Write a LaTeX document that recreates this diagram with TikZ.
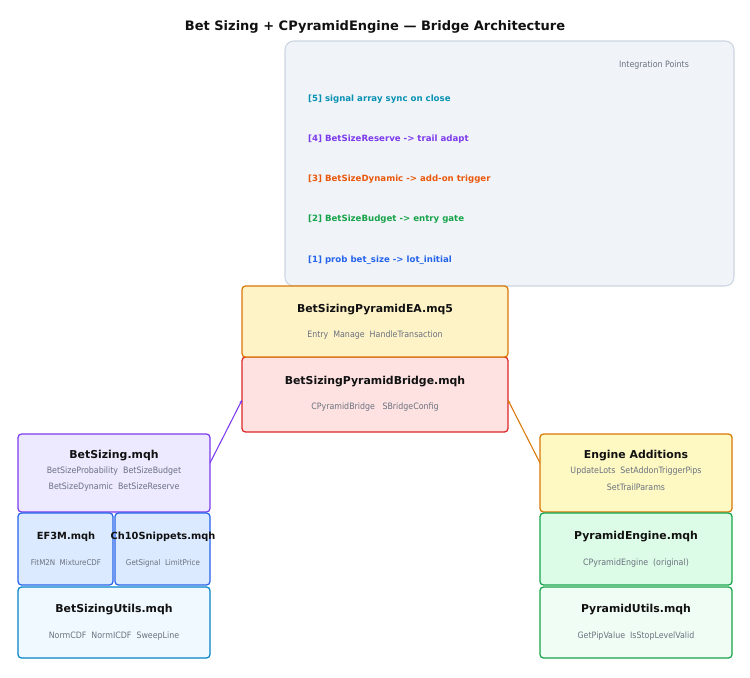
\documentclass[tikz,border=0pt]{standalone}
\usepackage{fontspec}
\setmainfont{DejaVu Sans}
\newfontfamily\condfont{DejaVu Sans Condensed}
\usetikzlibrary{arrows.meta}
\definecolor{panelbg}{HTML}{F0F4F8}
\definecolor{panelline}{HTML}{CBD5E1}
\definecolor{subgray}{HTML}{6B7280}
\definecolor{titleink}{HTML}{111111}
\definecolor{ipteal}{HTML}{0891B2}
\definecolor{ippurple}{HTML}{7C3AED}
\definecolor{iporange}{HTML}{EA580C}
\definecolor{ipgreen}{HTML}{16A34A}
\definecolor{ipblue}{HTML}{2563EB}
\definecolor{edgeamber}{HTML}{D97706}
\tikzset{
  box/.style={draw, rounded corners=2pt, line width=0.7pt},
  ttl/.style={font=\fontsize{6.2}{7}\selectfont\bfseries, text=titleink},
  sub/.style={font=\condfont\fontsize{5.0}{6}\selectfont, text=subgray},
  item/.style={font=\fontsize{4.9}{5.5}\selectfont\bfseries, anchor=west},
}
\begin{document}
\begin{tikzpicture}[x=0.02cm,y=-0.02cm]
\useasboundingbox (0,0) rectangle (750,677);
\node[font=\fontsize{7.4}{9}\selectfont\bfseries, text=titleink] (title) at (375,27) {Bet Sizing + CPyramidEngine — Bridge Architecture};
% integration panel
\draw[panelline, fill=panelbg, rounded corners=5pt, line width=0.6pt] (285,41) rectangle (734,286);
\node[sub] (ip) at (654,65) {Integration Points};
\node[item, text=ipteal] (i5) at (302,99) {[5] signal array sync on close};
\node[item, text=ippurple] (i4) at (302,139) {[4] BetSizeReserve -> trail adapt};
\node[item, text=iporange] (i3) at (302,179) {[3] BetSizeDynamic -> add-on trigger};
\node[item, text=ipgreen] (i2) at (302,219) {[2] BetSizeBudget -> entry gate};
\node[item, text=ipblue] (i1) at (302,260) {[1] prob bet\_size -> lot\_initial};
% centre
\draw[box, draw={rgb,255:red,220;green,38;blue,38}, fill={rgb,255:red,254;green,226;blue,226}] (242,357) rectangle (508,432);
\draw[box, draw=edgeamber, fill={rgb,255:red,254;green,243;blue,199}] (242,286) rectangle (508,357);
\node[ttl] (ea) at (375,310) {BetSizingPyramidEA.mq5};
\node[sub] (eas) at (375,335) {Entry\ \ Manage\ \ HandleTransaction};
\node[ttl] (br) at (375,382) {BetSizingPyramidBridge.mqh};
\node[sub] (brs) at (375,407) {CPyramidBridge\ \ \ SBridgeConfig};
% left stack
\draw[box, draw=ippurple, fill={rgb,255:red,237;green,233;blue,254}] (18,434) rectangle (210,512);
\draw[box, draw=ipblue, fill={rgb,255:red,219;green,234;blue,254}] (18,513) rectangle (113,585);
\draw[box, draw=ipblue, fill={rgb,255:red,219;green,234;blue,254}] (115,513) rectangle (210,585);
\draw[box, draw={rgb,255:red,2;green,132;blue,199}, fill={rgb,255:red,240;green,249;blue,255}] (18,587) rectangle (210,658);
\node[ttl] (bs) at (114,456) {BetSizing.mqh};
\node[sub] (bs1) at (114,471) {BetSizeProbability\ \ BetSizeBudget};
\node[sub] (bs2) at (114,487) {BetSizeDynamic\ \ BetSizeReserve};
\node[ttl, font=\fontsize{5.6}{7}\selectfont\bfseries] (ef) at (66,537) {EF3M.mqh};
\node[sub, font=\condfont\fontsize{4.5}{5}\selectfont] (efs) at (66,563) {FitM2N\ \ MixtureCDF};
\node[ttl, font=\fontsize{5.6}{7}\selectfont\bfseries] (ch) at (163,537) {Ch10Snippets.mqh};
\node[sub, font=\condfont\fontsize{4.5}{5}\selectfont] (chs) at (163,563) {GetSignal\ \ LimitPrice};
\node[ttl] (bu) at (114,610) {BetSizingUtils.mqh};
\node[sub] (bus) at (114,636) {NormCDF\ \ NormICDF\ \ SweepLine};
% right stack
\draw[box, draw=edgeamber, fill={rgb,255:red,254;green,249;blue,195}] (540,434) rectangle (732,512);
\draw[box, draw=ipgreen, fill={rgb,255:red,220;green,252;blue,231}] (540,513) rectangle (732,585);
\draw[box, draw=ipgreen, fill={rgb,255:red,240;green,253;blue,244}] (540,587) rectangle (732,658);
\node[ttl] (en) at (636,456) {Engine Additions};
\node[sub] (en1) at (636,471) {UpdateLots\ \ SetAddonTriggerPips};
\node[sub] (en2) at (636,487) {SetTrailParams};
\node[ttl] (pe) at (636,537) {PyramidEngine.mqh};
\node[sub] (pes) at (636,563) {CPyramidEngine\ \ (original)};
\node[ttl] (pu) at (636,610) {PyramidUtils.mqh};
\node[sub] (pus) at (636,636) {GetPipValue\ \ IsStopLevelValid};
% connectors
\coordinate (bsR) at (210,463);
\coordinate (brL) at (242,400);
\coordinate (enL) at (540,463);
\coordinate (brR) at (508,400);
\draw[ippurple, line width=0.6pt, -{Stealth[length=2pt]}] (bsR) -- (brL);
\draw[edgeamber, line width=0.6pt, -{Stealth[length=2pt]}] (enL) -- (brR);
\end{tikzpicture}
\end{document}
